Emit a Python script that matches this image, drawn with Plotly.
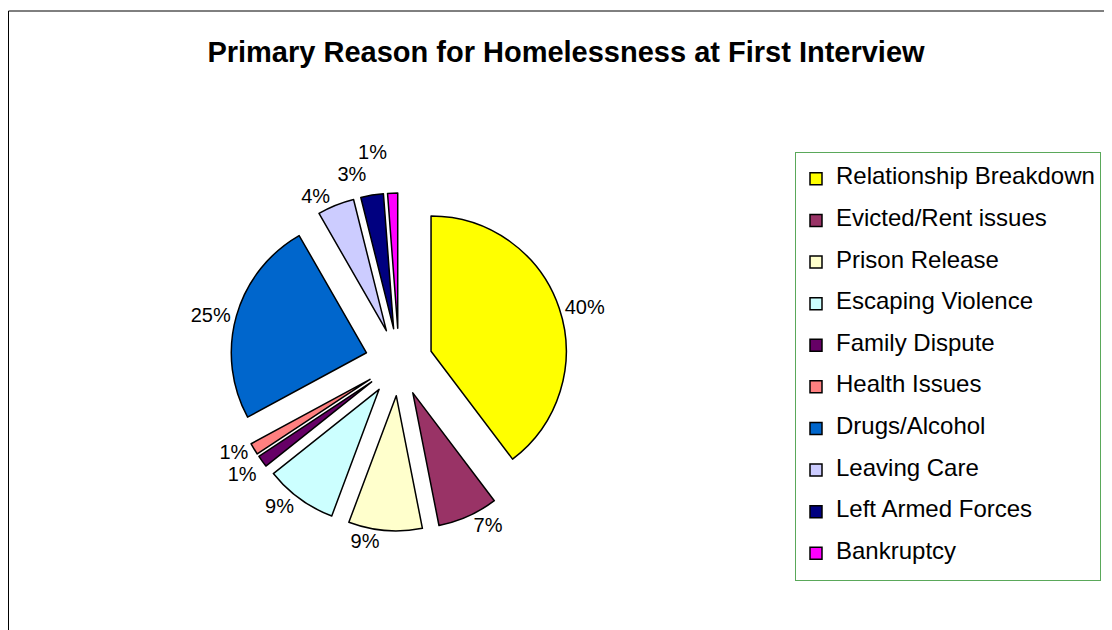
import plotly.graph_objects as go

categories = ["Relationship Breakdown", "Evicted/Rent issues", "Prison Release",
              "Escaping Violence", "Family Dispute", "Health Issues",
              "Drugs/Alcohol", "Leaving Care", "Left Armed Forces", "Bankruptcy"]
values = [39.7, 7.2, 8.8, 8.6, 1.4, 1.4, 24.6, 4.4, 2.7, 1.2]
colors = ["#FFFF00", "#993366", "#FFFFCC", "#CCFFFF", "#660066",
          "#FF8080", "#0066CC", "#CCCCFF", "#000080", "#FF00FF"]
title_text = "Primary Reason for Homelessness at First Interview"

W, H = 1112, 630
OFF = 8  # the page body margin shifts the figure by 8px
FONT = "Liberation Sans, Arial, sans-serif"

legend_labels = [
    f"<span style='font-size:24px;baseline-shift:6px'>{c}</span>" for c in categories
]

cx, cy, R = 399 - OFF, 362 - OFF, 169

fig = go.Figure(go.Pie(
    labels=legend_labels,
    values=values,
    sort=False,
    direction="clockwise",
    rotation=0,
    pull=[0.25] * len(values),
    marker=dict(colors=colors, line=dict(color="black", width=1.5)),
    textposition="outside",
    texttemplate="%{percent:.0%}",
    textfont=dict(family=FONT, size=20, color="black"),
    domain=dict(x=[(cx - R) / W, (cx + R) / W], y=[1 - (cy + R) / H, 1 - (cy - R) / H]),
    hoverinfo="skip",
))

fig.update_layout(
    width=W, height=H,
    margin=dict(l=0, r=0, t=0, b=0, autoexpand=False),
    paper_bgcolor="white",
    plot_bgcolor="white",
    title=dict(text=title_text, x=(566 - OFF) / W, xanchor="center",
               y=1 - (52 - OFF) / H, yanchor="middle", yref="container",
               font=dict(family=FONT, size=29, color="black", weight="bold")),
    legend=dict(x=(795 - OFF) / W, y=1 - (152 - OFF) / H, xanchor="left", yanchor="top",
                bordercolor="#5aa85a", borderwidth=1, bgcolor="white",
                font=dict(family=FONT, size=29.7, color="black"),
                entrywidth=300, entrywidthmode="pixels",
                traceorder="normal"),
    shapes=[dict(type="rect", xref="paper", yref="paper",
                 x0=0.5 / W, x1=1.2, y0=-0.2, y1=1 - (11 - OFF) / H,
                 line=dict(color="black", width=1), layer="below")],
)

hide_leaders = "document.querySelectorAll('path.textline').forEach(function(e){e.style.display='none';});"
fig.write_html("out.html", post_script=hide_leaders)
